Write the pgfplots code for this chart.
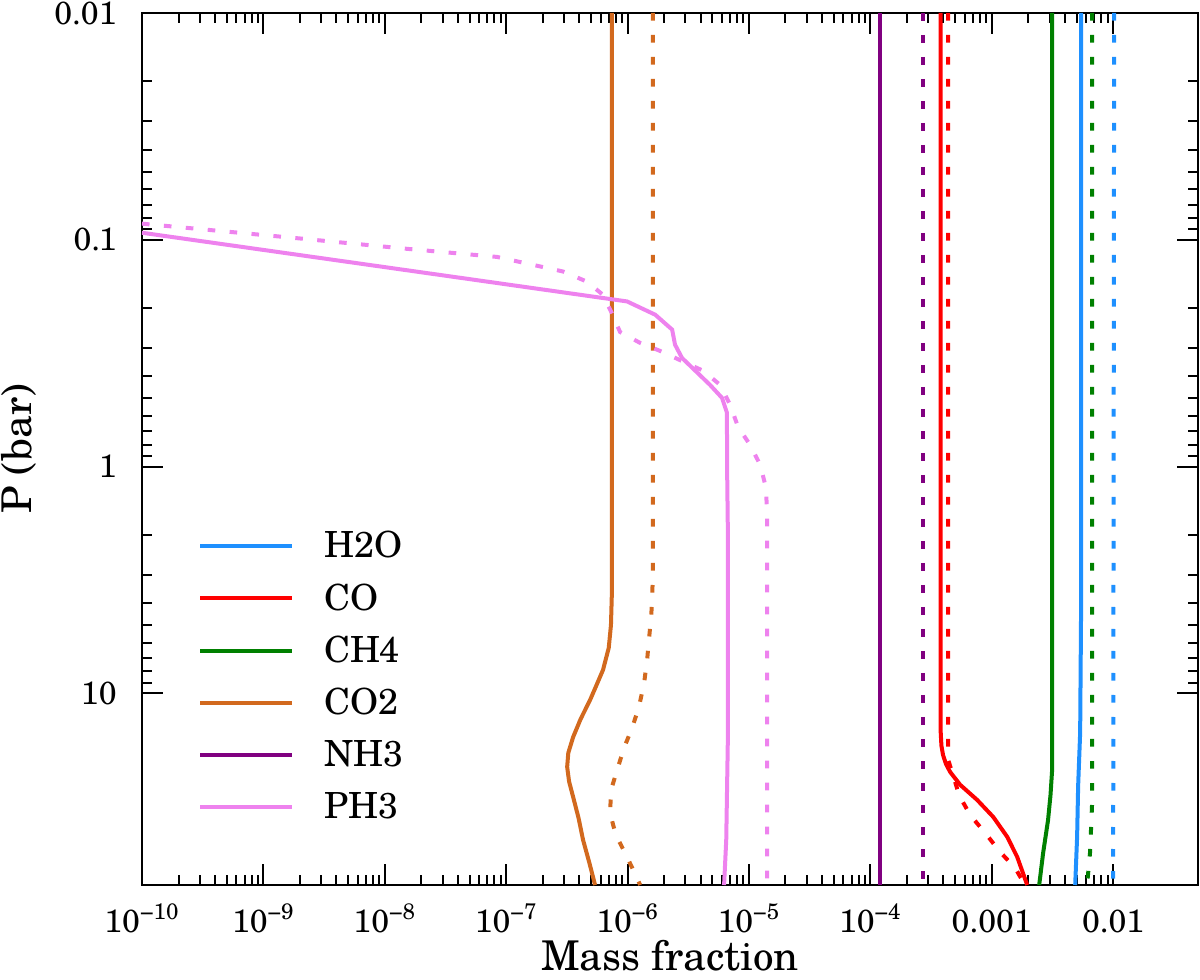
\documentclass[border=0pt]{standalone}
\usepackage{pgfplots}
\pgfplotsset{compat=1.18}
\usepackage{fontspec}
\setmainfont{TeX Gyre Schola}
\definecolor{ch2o}{RGB}{30,144,255}
\definecolor{cco}{RGB}{255,0,0}
\definecolor{cch4}{RGB}{0,128,0}
\definecolor{cco2}{RGB}{210,105,30}
\definecolor{cnh3}{RGB}{128,0,128}
\definecolor{cph3}{RGB}{238,130,238}

\pgfplotstableread{
x y
1e-10 0.0931
9.9e-7 0.187
1.69e-6 0.214
2.33e-6 0.249
2.46e-6 0.290
2.81e-6 0.332
4.79e-6 0.437
6.0e-6 0.498
6.59e-6 0.579
6.6e-6 0.964
6.7e-6 1.90
6.7e-6 16.0
6.5e-6 44.3
6.24e-6 70
}\phsolid
\pgfplotstableread{
x y
1e-10 0.0849
1.75e-9 0.098
1.52e-8 0.1096
8.4e-8 0.119
2.94e-7 0.138
4.63e-7 0.153
6.28e-7 0.175
7.4e-7 0.21
8.67e-7 0.255
1.27e-6 0.285
1.85e-6 0.309
4.19e-6 0.378
5.78e-6 0.436
7.0e-6 0.535
8.13e-6 0.668
1.02e-5 0.802
1.24e-5 0.984
1.38e-5 1.24
1.41e-5 1.60
1.41e-5 70
}\phdash
\pgfplotstableread{
x y
7.44e-7 0.01
7.44e-7 3.5
7.3e-7 5.0
7.0e-7 6.3
6.28e-7 7.88
5.5e-7 9.3
4.91e-7 10.7
4.1e-7 13.0
3.56e-7 15.6
3.25e-7 18.3
3.18e-7 21.1
3.3e-7 24.5
3.56e-7 28.6
3.95e-7 35.5
4.30e-7 44.3
4.85e-7 56
5.40e-7 70
}\cotwosolid
\pgfplotstableread{
x y
1.62e-6 0.01
1.62e-6 3.0
1.57e-6 4.5
1.50e-6 5.81
1.45e-6 7.11
1.37e-6 8.98
1.24e-6 11.5
1.09e-6 14.2
9.35e-7 17.4
8.2e-7 21.8
7.5e-7 25.5
7.25e-7 29.5
7.2e-7 33.7
7.6e-7 38
8.04e-7 42.2
9.9e-7 52.7
1.20e-6 65.3
1.27e-6 70
}\cotwodash
\pgfplotstableread{
x y
3.8e-4 0.01
3.8e-4 14.9
3.85e-4 17.0
3.97e-4 18.7
4.2e-4 20.5
4.54e-4 22.2
5.49e-4 25.3
7.58e-4 29.5
1.03e-3 35.1
1.34e-3 42.9
1.62e-3 52.6
1.96e-3 70
}\cosolid
\pgfplotstableread{
x y
4.38e-4 0.01
4.38e-4 19.7
4.8e-4 22.9
5.38e-4 28.1
6.64e-4 34.4
8.81e-4 41.2
1.17e-3 50.0
1.56e-3 58.9
1.88e-3 70
}\codash
\pgfplotstableread{
x y
3.14e-3 0.01
3.14e-3 22
3.05e-3 28
2.91e-3 36.2
2.65e-3 50.6
2.46e-3 70
}\chsolid
\pgfplotstableread{
x y
6.72e-3 0.01
6.72e-3 30
6.46e-3 50
6.1e-3 70
}\chdash
\pgfplotstableread{
x y
5.45e-3 0.01
5.45e-3 4
5.35e-3 14.9
5.15e-3 25.5
5.05e-3 42.9
4.87e-3 70
}\hsolid
\pgfplotstableread{
x y
1.02e-2 0.01
1.0e-2 70
}\hdash
\pgfplotstableread{
x y
1.21e-4 0.01
1.21e-4 70
}\nhsolid
\pgfplotstableread{
x y
2.72e-4 0.01
2.72e-4 70
}\nhdash

\begin{document}
\begin{tikzpicture}
\begin{axis}[
  scale only axis, width=528pt, height=436pt,
  at={(0,0)}, anchor=south west,
  xmode=log, ymode=log, y dir=reverse,
  xmin=1e-10, xmax=0.05, ymin=0.01, ymax=70,
  xtick={1e-10,1e-9,1e-8,1e-7,1e-6,1e-5,1e-4,1e-3,1e-2},
  xticklabels={10\textsuperscript{−10},10\textsuperscript{−9},10\textsuperscript{−8},10\textsuperscript{−7},10\textsuperscript{−6},10\textsuperscript{−5},10\textsuperscript{−4},0.001,0.01},
  ytick={0.01,0.1,1,10},
  yticklabels={0.01,0.1,1,10},
  tick align=inside,
  major tick length=10.5pt, minor tick length=5pt,
  every tick/.style={black, line width=1pt},
  axis line style={line width=1.4pt},
  ticklabel style={font=\fontsize{16}{18}\selectfont},
  xticklabel style={anchor=base, inner sep=0pt, yshift=-23.5pt},
  yticklabel style={anchor=east, inner sep=0pt, xshift=-12.5pt},
  xlabel={Mass fraction}, ylabel={P (bar)},
  label style={font=\fontsize{20.5}{23}\selectfont},
  xlabel style={at={(rel axis cs:0.5,-0.0975)}, anchor=base, inner sep=0pt},
  ylabel style={at={(rel axis cs:-0.1042,0.5)}, anchor=base, inner sep=0pt},
  every axis plot/.append style={line width=2pt},
  legend image code/.code={\draw[#1, line width=2pt] (0pt,0pt) -- (46pt,0pt);},
  legend style={draw=none, fill=none, at={(rel axis cs:0.053,0.406)}, anchor=north west,
    font=\fontsize{18}{20}\selectfont, inner sep=0pt, row sep=11.4pt, column sep=15pt,
    nodes={inner sep=0pt}},
  legend cell align=left,
]
\addplot[ch2o] table {\hsolid}; \addlegendentry{H2O}
\addplot[cco] table {\cosolid}; \addlegendentry{CO}
\addplot[cch4] table {\chsolid}; \addlegendentry{CH4}
\addplot[cco2] table {\cotwosolid}; \addlegendentry{CO2}
\addplot[cnh3] table {\nhsolid}; \addlegendentry{NH3}
\addplot[cph3] table {\phsolid}; \addlegendentry{PH3}
\addplot[ch2o, dash pattern=on 3.8pt off 7.2pt, forget plot] table {\hdash};
\addplot[cco, dash pattern=on 3.8pt off 7.2pt, forget plot] table {\codash};
\addplot[cch4, dash pattern=on 3.8pt off 7.2pt, forget plot] table {\chdash};
\addplot[cco2, dash pattern=on 3.8pt off 7.2pt, forget plot] table {\cotwodash};
\addplot[cnh3, dash pattern=on 3.8pt off 7.2pt, forget plot] table {\nhdash};
\addplot[cph3, dash pattern=on 3.8pt off 7.2pt, forget plot] table {\phdash};
\end{axis}
\pgfresetboundingbox
\useasboundingbox (-71pt,-47.5pt) rectangle (529pt,442.5pt);
\end{tikzpicture}
\end{document}
